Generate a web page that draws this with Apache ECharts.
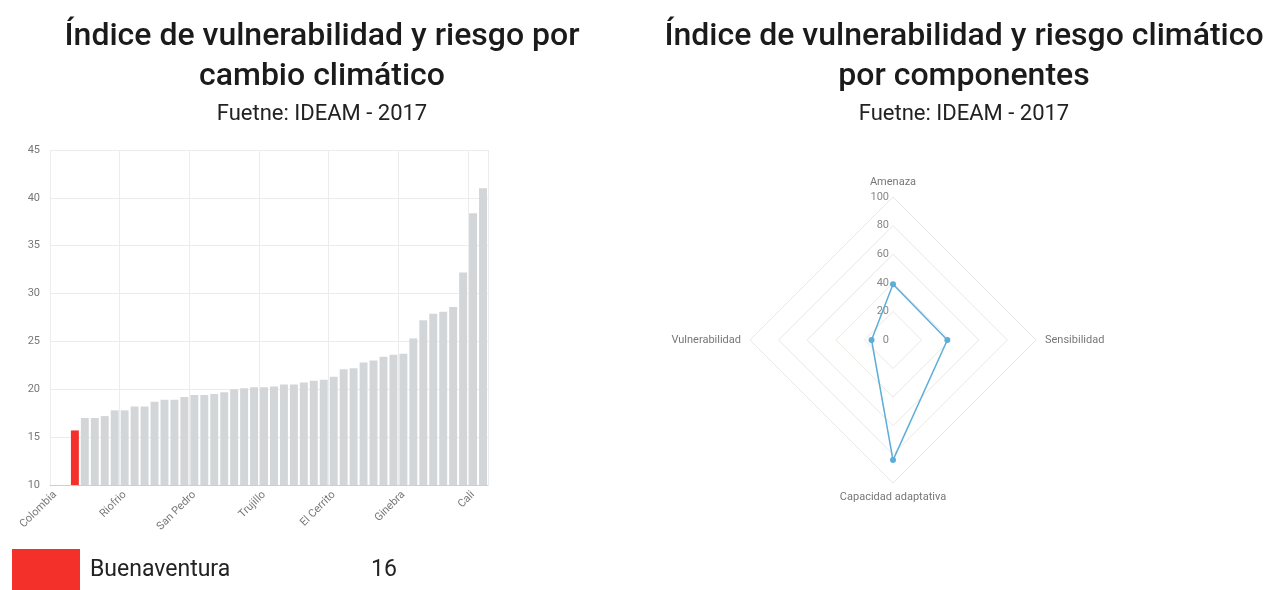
<!DOCTYPE html>
<html>
<head>
<meta charset="utf-8">
<title>Índice de vulnerabilidad y riesgo por cambio climático</title>
<script src="https://cdn.jsdelivr.net/npm/echarts@6/dist/echarts.min.js"></script>
<style>
  html, body { margin: 0; padding: 0; background: #fff; }
  #main { width: 1283px; height: 590px; }
</style>
</head>
<body>
<div id="main"></div>
<script>
  // municipios ordenados por indice, solo se ve una etiqueta cada 7
  const municipios = [
    'Colombia', '', 'Buenaventura', '', '', '', '',
    'Riofrio', '', '', '', '', '', '',
    'San Pedro', '', '', '', '', '', '',
    'Trujillo', '', '', '', '', '', '',
    'El Cerrito', '', '', '', '', '', '',
    'Ginebra', '', '', '', '', '', '',
    'Cali', ''
  ]
  const indice = [
    null, null, 15.7, 17.0, 17.0, 17.2, 17.8,
    17.8, 18.2, 18.2, 18.7, 18.9, 18.9, 19.2,
    19.4, 19.4, 19.5, 19.7, 20.0, 20.1, 20.2,
    20.2, 20.3, 20.5, 20.5, 20.7, 20.9, 21.0,
    21.3, 22.1, 22.2, 22.8, 23.0, 23.4, 23.6,
    23.7, 25.3, 27.2, 27.9, 28.1, 28.6, 32.2,
    38.4, 41.0
  ]
  const resaltado = 'Buenaventura'
  const valorResaltado = '16'

  // radar: orden antihorario desde arriba
  const componentes = ['Amenaza', 'Vulnerabilidad', 'Capacidad adaptativa', 'Sensibilidad']
  const valoresComponentes = [39, 15, 84, 38]

  const fuente = 'Roboto, "Noto Sans", sans-serif'
  const tituloStyle = { fontFamily: fuente, fontSize: 32, fontWeight: 500, color: '#1b1b1b', lineHeight: 40 }
  const subStyle = { fontFamily: fuente, fontSize: 22, color: '#222', lineHeight: 26 }

  const chart = echarts.init(document.getElementById('main'))
  chart.setOption({
    animation: false,
    title: [{
      text: 'Índice de vulnerabilidad y riesgo por\ncambio climático',
      subtext: 'Fuetne: IDEAM - 2017',
      left: 322,
      top: 17,
      padding: 0,
      itemGap: 4,
      textAlign: 'center',
      textStyle: tituloStyle,
      subtextStyle: subStyle
    }, {
      text: 'Índice de vulnerabilidad y riesgo climático\npor componentes',
      subtext: 'Fuetne: IDEAM - 2017',
      left: 964,
      top: 17,
      padding: 0,
      itemGap: 4,
      textAlign: 'center',
      textStyle: tituloStyle,
      subtextStyle: subStyle
    }],
    grid: {
      left: 50,
      right: 795,
      top: 150,
      bottom: 105,
      outerBoundsMode: 'none'
    },
    xAxis: {
      type: 'category',
      data: municipios,
      axisLine: { lineStyle: { color: '#cfcfcf' } },
      axisTick: { alignWithLabel: true, interval: 6, length: 4, lineStyle: { color: '#cfcfcf' } },
      axisLabel: { interval: 6, rotate: 45, color: '#777', fontSize: 11, fontFamily: fuente, margin: 8 },
      splitLine: { show: true, interval: 6, lineStyle: { color: '#ececec' } }
    },
    yAxis: {
      type: 'value',
      min: 10,
      max: 45,
      interval: 5,
      axisLine: { show: false },
      axisTick: { show: false },
      axisLabel: { color: '#777', fontSize: 11, fontFamily: fuente, margin: 10 },
      splitLine: { lineStyle: { color: '#ececec' } }
    },
    series: [{
      type: 'bar',
      data: indice,
      barCategoryGap: '20%',
      itemStyle: {
        color: p => p.name === resaltado ? '#f3302a' : '#d3d6d9'
      }
    }, {
      type: 'radar',
      symbol: 'circle',
      symbolSize: 6,
      lineStyle: { color: '#5caed8', width: 1.5 },
      itemStyle: { color: '#5caed8' },
      data: [{ value: valoresComponentes, name: 'Componentes' }]
    }],
    radar: {
      center: [893, 340],
      radius: 143,
      shape: 'polygon',
      startAngle: 90,
      splitNumber: 5,
      nameGap: 9,
      indicator: componentes.map((c, i) => ({
        name: c, min: 0, max: 100, axisLabel: { show: i === 0 }
      })),
      axisName: { color: '#777', fontSize: 11, fontFamily: fuente },
      axisLine: { show: false },
      axisTick: { show: false },
      axisLabel: { show: true, color: '#888', fontSize: 11, fontFamily: fuente, margin: 4 },
      splitLine: { lineStyle: { color: '#ebe7e2' } },
      splitArea: { show: false }
    },
    graphic: [{
      type: 'rect',
      left: 12,
      top: 549,
      shape: { width: 68, height: 45 },
      style: { fill: '#f3302a' }
    }, {
      type: 'text',
      left: 90,
      top: 559,
      style: { text: resaltado, font: '23px ' + fuente, fill: '#222' }
    }, {
      type: 'text',
      left: 371,
      top: 559,
      style: { text: valorResaltado, font: '23px ' + fuente, fill: '#222' }
    }]
  })
</script>
</body>
</html>
